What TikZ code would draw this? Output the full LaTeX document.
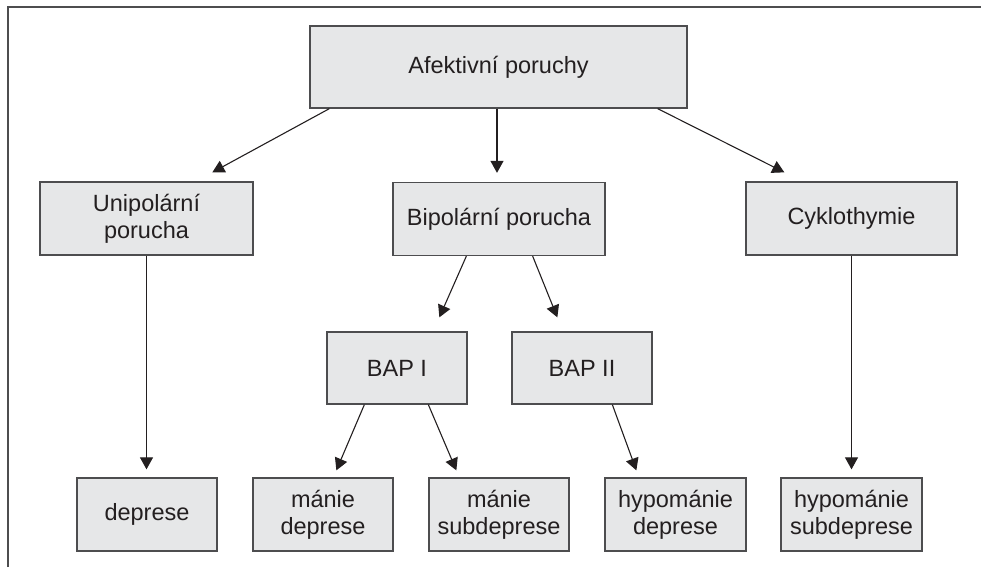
\documentclass[tikz,border=0pt]{standalone}
\usepackage{fontspec}
\setmainfont{Liberation Sans}
\usetikzlibrary{arrows.meta}
\definecolor{boxfill}{HTML}{E6E7E8}
\definecolor{ink}{HTML}{231F20}
\definecolor{edge}{HTML}{4D4D4F}
\begin{document}
\begin{tikzpicture}[x=1pt,y=-1pt,
  box/.style={draw=edge,line width=1.3pt,fill=boxfill,inner sep=0pt,align=center,
    text=ink,font=\fontsize{23.5}{27}\selectfont},
  arr/.style={draw=ink,line width=1.1pt,-{Triangle[length=12pt,width=13pt]}}]
\useasboundingbox (0,0) rectangle (981,567);
\draw[edge,line width=1.3pt] (8,567) -- (8,7) -- (981,7);
\node[box,minimum width=377pt,minimum height=82pt] (afe) at (498.5,67) {Afektivní poruchy};
\node[box,minimum width=213pt,minimum height=73pt] (uni) at (146.5,218.5) {Unipolární\\porucha};
\node[box,minimum width=212pt,minimum height=73pt] (bip) at (499,219) {Bipolární porucha};
\node[box,minimum width=211pt,minimum height=73pt] (cyk) at (851.5,218.5) {Cyklothymie};
\node[box,minimum width=140pt,minimum height=72pt] (bap1) at (397,368) {BAP I};
\node[box,minimum width=140pt,minimum height=72pt] (bap2) at (582,368) {BAP II};
\node[box,minimum width=140pt,minimum height=73pt] (dep) at (147,514.5) {deprese};
\node[box,minimum width=140pt,minimum height=73pt] (md) at (323,514.5) {mánie\\deprese};
\node[box,minimum width=140pt,minimum height=73pt] (ms) at (499,514.5) {mánie\\subdeprese};
\node[box,minimum width=141pt,minimum height=73pt] (hd) at (675.5,514.5) {hypománie\\deprese};
\node[box,minimum width=141pt,minimum height=73pt] (hs) at (851.5,514.5) {hypománie\\subdeprese};
\draw[arr] ([xshift=20pt]afe.south west) -- ([xshift=173pt,yshift=9pt]uni.north west);
\draw[arr,shorten >=9pt] ([xshift=-1.5pt]afe.south) -- ([xshift=-2pt]bip.north);
\draw[arr] ([xshift=-30pt]afe.south east) -- ([xshift=39pt,yshift=9pt]cyk.north west);
\draw[arr,shorten >=8pt] (uni.south) -- (uni.south |- dep.north);
\draw[arr,shorten >=8pt] (cyk.south) -- (hs.north);
\draw[arr] ([xshift=74pt]bip.south west) -- ([xshift=113pt,yshift=14pt]bap1.north west);
\draw[arr] ([xshift=-73pt]bip.south east) -- ([xshift=46pt,yshift=14pt]bap2.north west);
\draw[arr] ([xshift=38pt]bap1.south west) -- ([xshift=84pt,yshift=7pt]md.north west);
\draw[arr] ([xshift=102pt]bap1.south west) -- ([xshift=28pt,yshift=7pt]ms.north west);
\draw[arr] ([xshift=101pt]bap2.south west) -- ([xshift=32pt,yshift=7pt]hd.north west);
\end{tikzpicture}
\end{document}
